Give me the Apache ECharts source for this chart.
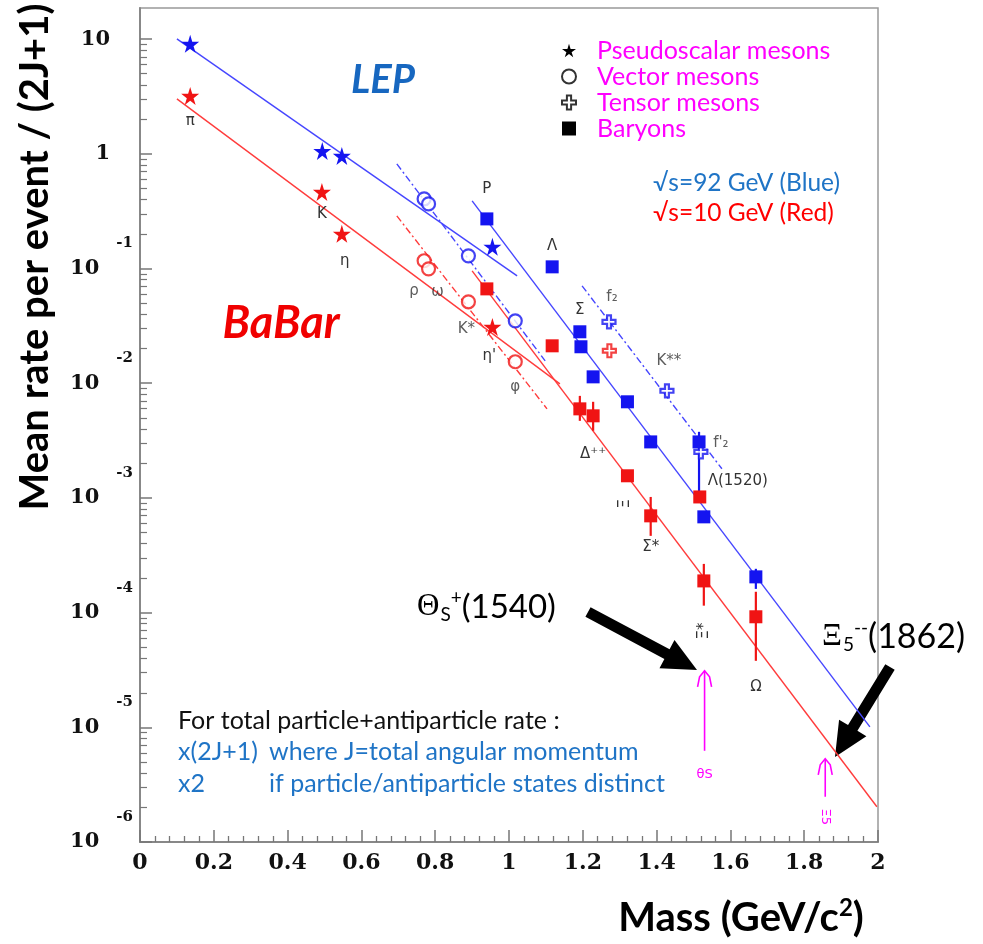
<!DOCTYPE html>
<html><head><meta charset="utf-8">
<script src="https://cdn.jsdelivr.net/npm/echarts@6/dist/echarts.min.js"></script>
<style>html,body{margin:0;padding:0;background:#fff}#c{width:983px;height:944px}</style>
</head><body><div id="c"></div>
<script>
// ---------------- data ----------------
const yTickValues = [1e-6, 1e-5, 1e-4, 1e-3, 1e-2, 1e-1, 1, 10];

const lepPsNames = ['π', 'K', 'η', 'η′'];
const lepPsMass  = [0.136, 0.494, 0.547, 0.955];
const lepPsRate  = [9.1, 1.06, 0.96, 0.155];

const lepVecNames = ['ρ', 'ω', 'K*', 'φ'];
const lepVecMass  = [0.770, 0.782, 0.890, 1.017];
const lepVecRate  = [0.405, 0.366, 0.129, 0.035];

const lepTenNames = ['f2', 'K2*', 'f2′'];
const lepTenMass  = [1.271, 1.428, 1.520];
const lepTenRate  = [0.0343, 0.00859, 0.00252];

const lepBarNames = ['p', 'Λ', 'Σ', 'Σ0', 'Δ++', 'Ξ', 'Σ*', 'Λ(1520)', 'Ξ*', 'Ω'];
const lepBarMass  = [0.940, 1.117, 1.192, 1.195, 1.228, 1.321, 1.384, 1.515, 1.528, 1.669];
const lepBarRate  = [0.271, 0.1035, 0.0281, 0.0208, 0.01137, 0.00689, 0.00308, 0.00308, 0.000684, 0.000205];

const babarPsNames = ['π', 'K', 'η', 'η′'];
const babarPsMass  = [0.136, 0.493, 0.547, 0.955];
const babarPsRate  = [3.2, 0.466, 0.201, 0.031];

const babarVecNames = ['ρ', 'ω', 'K*', 'φ'];
const babarVecMass  = [0.770, 0.782, 0.890, 1.017];
const babarVecRate  = [0.117, 0.0994, 0.0513, 0.0154];

const babarTenNames = ['f2'];
const babarTenMass  = [1.272];
const babarTenRate  = [0.0192];

const babarBarNames = ['p', 'Λ', 'Σ', 'Δ++', 'Ξ', 'Σ*', 'Λ(1520)', 'Ξ*', 'Ω'];
const babarBarMass  = [0.940, 1.117, 1.192, 1.228, 1.321, 1.384, 1.517, 1.528, 1.669];
const babarBarRate  = [0.0665, 0.0212, 0.00598, 0.0052, 0.00156, 0.000698, 0.00102, 0.000189, 0.000092];

const lepErrMass = [1.515, 1.669];
const lepErrLow  = [0.00113, 0.000161];
const lepErrHigh = [0.00377, 0.000241];

const babarErrMass = [1.192, 1.228, 1.384, 1.528, 1.669];
const babarErrLow  = [0.0047, 0.00385, 0.000467, 0.000115, 0.000038];
const babarErrHigh = [0.00776, 0.00689, 0.00102, 0.000266, 0.000152];

// fitted trend lines (end points)
const lepPsLineMass  = [0.10, 1.022];  const lepPsLineRate  = [10.07, 0.0863];
const lepVecLineMass = [0.696, 1.098]; const lepVecLineRate = [0.818, 0.01568];
const lepBarLineMass = [0.90, 1.978];  const lepBarLineRate = [0.389, 1.01e-5];
const lepTenLineMass = [1.198, 1.577]; const lepTenLineRate = [0.0707, 0.001795];
const babarPsLineMass  = [0.10, 1.138]; const babarPsLineRate  = [3.02, 0.00988];
const babarVecLineMass = [0.696, 1.103]; const babarVecLineRate = [0.288, 0.00598];
const babarBarLineMass = [0.90, 1.997]; const babarBarLineRate = [0.0955, 2.03e-6];

// pentaquark expectation arrows
const pentaNames    = ['θS', 'Ξ5'];
const pentaMass     = [1.53, 1.857];
const pentaHeadRate = [3.11e-5, 5.31e-6];
const pentaTailRate = [6.24e-6, 2.48e-6];

// ---------------- styles ----------------
const BLUE = '#1414F0', RED = '#F01414';
const BLUE_L = '#4646FF', RED_L = '#FF3C3C';
const STAR = 'path://M50,0 L61,35 L98,35 L68,57 L79,91 L50,70 L21,91 L32,57 L2,35 L39,35 Z';
const CROSS = 'path://M35,0 H65 V35 H100 V65 H65 V100 H35 V65 H0 V35 H35 Z';

const labelStyle = {
  'BaBar:π': {offset: [0, 25]},
  'BaBar:K': {offset: [0, 22]},
  'BaBar:η': {offset: [3, 27]},
  'BaBar:ρ': {offset: [-10, 30]},
  'BaBar:ω': {offset: [9, 23]},
  'BaBar:K*': {offset: [-2, 27], text: 'K*'},
  'BaBar:η′': {offset: [-3, 29], text: "η'"},
  'BaBar:φ': {offset: [0, 25]},
  'LEP:p': {offset: [0, -30], text: 'P'},
  'LEP:Λ': {offset: [0, -21]},
  'LEP:Σ': {offset: [0, -22]},
  'LEP:f2': {offset: [3, -25], text: 'f₂'},
  'LEP:K2*': {offset: [2, -30], text: 'K**'},
  'LEP:f2′': {offset: [20, -9], text: "f'₂"},
  'BaBar:Δ++': {offset: [0, 38], text: 'Δ⁺⁺'},
  'BaBar:Ξ': {offset: [-28, -2], rotate: 90},
  'BaBar:Σ*': {offset: [0, 31], text: 'Σ*'},
  'BaBar:Λ(1520)': {offset: [38, -16]},
  'BaBar:Ξ*': {offset: [-50, 0], rotate: 90},
  'BaBar:Ω': {offset: [0, 70]}
};

function pts(names, mass, rate, exp) {
  return names.map((n, i) => {
    const item = {name: n, value: [mass[i], rate[i]]};
    const ls = labelStyle[exp + ':' + n];
    if (ls) {
      item.label = {show: true, position: 'inside', formatter: ls.text || n,
        offset: ls.offset, rotate: ls.rotate || 0, color: '#333',
        fontSize: 15, fontFamily: 'DejaVu Sans'};
    }
    return item;
  });
}
function line(mass, rate) { return mass.map((m, i) => [m, rate[i]]); }

function scatter(name, data, symbol, size, color, hollow) {
  return {
    type: 'scatter', name, data, symbol, symbolSize: size, z: 5,
    itemStyle: hollow ? {color: '#fff', borderColor: color, borderWidth: 2.2} : {color: color, opacity: 1},
    label: {show: false}, emphasis: {disabled: true}
  };
}
function fitLine(name, data, color, dashed) {
  return {
    type: 'line', name, data, symbol: 'none', z: 3, silent: true,
    lineStyle: {color: color, width: 1.4, type: dashed ? [7, 3, 2, 3] : 'solid'}
  };
}
function errBars(name, mass, lo, hi, color) {
  return {
    type: 'custom', name, z: 4, silent: true,
    data: mass.map((m, i) => [m, lo[i], hi[i]]),
    encode: {x: 0, y: [1, 2]},
    renderItem(params, api) {
      const a = api.coord([api.value(0), api.value(1)]);
      const b = api.coord([api.value(0), api.value(2)]);
      return {type: 'line', shape: {x1: a[0], y1: a[1], x2: b[0], y2: b[1]},
        style: {stroke: color, lineWidth: 2.2}};
    }
  };
}

const minorValues = [];
for (let k = -6; k <= 0; k++) for (let m = 2; m <= 9; m++) minorValues.push(+(m * Math.pow(10, k)).toPrecision(3));

function arrowPoly(tail, tip, shaftW, headW, headL) {
  const dx = tip[0] - tail[0], dy = tip[1] - tail[1];
  const L = Math.hypot(dx, dy), ux = dx / L, uy = dy / L, nx = -uy, ny = ux;
  const bx = tip[0] - ux * headL, by = tip[1] - uy * headL;
  return [
    [tail[0] + nx * shaftW / 2, tail[1] + ny * shaftW / 2],
    [bx + nx * shaftW / 2, by + ny * shaftW / 2],
    [bx + nx * headW / 2, by + ny * headW / 2],
    tip,
    [bx - nx * headW / 2, by - ny * headW / 2],
    [bx - nx * shaftW / 2, by - ny * shaftW / 2],
    [tail[0] - nx * shaftW / 2, tail[1] - ny * shaftW / 2]
  ];
}

const NOTE_BLUE = '#1F74C6';
const NOTE_FONT = '25px Lato';
const chart = echarts.init(document.getElementById('c'));
chart.setOption({
  animation: false,
  backgroundColor: '#fff',
  grid: {left: 140, right: 105, top: 8, bottom: 102, show: true, borderColor: '#999', borderWidth: 1.5},
  xAxis: {
    type: 'value', min: 0, max: 2, interval: 0.2,
    axisLine: {show: true, lineStyle: {color: '#888', width: 2}},
    axisTick: {show: true, inside: true, length: 12, lineStyle: {color: '#777', width: 1.5}},
    minorTick: {show: true, splitNumber: 5, length: 6, lineStyle: {color: '#777', width: 1.3}},
    axisLabel: {fontFamily: 'DejaVu Serif', fontWeight: 'bold', fontSize: 22, color: '#111', margin: 10},
    splitLine: {show: false}, minorSplitLine: {show: false}
  },
  yAxis: [{
    type: 'log', logBase: 10, min: 1e-6, max: 18.7,
    axisLine: {show: true, lineStyle: {color: '#888', width: 2}},
    axisTick: {show: true, inside: true, length: 12, customValues: yTickValues, lineStyle: {color: '#777', width: 1.5}},
    axisLabel: {
      customValues: yTickValues, margin: 7,
      formatter: function (v) {
        const e = Math.round(Math.log10(v));
        if (e === 0) return '{p|1}';
        if (e === 1) return '{p|10}';
        return '{b|10}{e|' + e + '}';
      },
      rich: {
        b: {fontFamily: 'DejaVu Serif', fontWeight: 'bold', fontSize: 21, color: '#111'},
        p: {fontFamily: 'DejaVu Serif', fontWeight: 'bold', fontSize: 21, color: '#111', padding: [0, 23, 0, 0]},
        e: {fontFamily: 'DejaVu Serif', fontWeight: 'bold', fontSize: 15, color: '#111', padding: [0, 0, 50, 17]}
      }
    },
    splitLine: {show: false}
  }, {
    type: 'log', logBase: 10, min: 1e-6, max: 18.7, position: 'left',
    axisLine: {show: false},
    axisLabel: {show: false},
    axisTick: {show: true, inside: true, length: 7, customValues: minorValues, lineStyle: {color: '#777', width: 1.2}},
    splitLine: {show: false}
  }],
  legend: {
    orient: 'vertical', left: 556, top: 33, itemWidth: 14, itemHeight: 14, itemGap: 1,
    selectedMode: false,
    textStyle: {color: '#FF00FF', fontFamily: 'Lato', fontSize: 25, lineHeight: 22, padding: [0, 0, 0, 16]},
    data: [
      {name: 'Pseudoscalar mesons', icon: STAR, itemStyle: {color: '#000', borderWidth: 0}},
      {name: 'Vector mesons', icon: 'emptyCircle', itemStyle: {color: '#000', borderColor: '#000', borderWidth: 2}},
      {name: 'Tensor mesons', icon: CROSS, itemStyle: {color: '#fff', borderColor: '#000', borderWidth: 2}},
      {name: 'Baryons', icon: 'rect', itemStyle: {color: '#000', borderWidth: 0}}
    ]
  },
  series: [
    fitLine('LEP pseudoscalar fit', line(lepPsLineMass, lepPsLineRate), BLUE_L, false),
    fitLine('LEP vector fit', line(lepVecLineMass, lepVecLineRate), BLUE_L, true),
    fitLine('LEP baryon fit', line(lepBarLineMass, lepBarLineRate), BLUE_L, false),
    fitLine('LEP tensor fit', line(lepTenLineMass, lepTenLineRate), BLUE_L, true),
    fitLine('BaBar pseudoscalar fit', line(babarPsLineMass, babarPsLineRate), RED_L, false),
    fitLine('BaBar vector fit', line(babarVecLineMass, babarVecLineRate), RED_L, true),
    fitLine('BaBar baryon fit', line(babarBarLineMass, babarBarLineRate), RED_L, false),
    errBars('LEP errors', lepErrMass, lepErrLow, lepErrHigh, BLUE),
    errBars('BaBar errors', babarErrMass, babarErrLow, babarErrHigh, RED),
    scatter('Pseudoscalar mesons', pts(lepPsNames, lepPsMass, lepPsRate, 'LEP'), STAR, 18, BLUE, false),
    scatter('Vector mesons', pts(lepVecNames, lepVecMass, lepVecRate, 'LEP'), 'circle', 13, BLUE, true),
    scatter('Tensor mesons', pts(lepTenNames, lepTenMass, lepTenRate, 'LEP'), CROSS, 13, BLUE, true),
    scatter('Baryons', pts(lepBarNames, lepBarMass, lepBarRate, 'LEP'), 'rect', 13, BLUE, false),
    scatter('Pseudoscalar mesons', pts(babarPsNames, babarPsMass, babarPsRate, 'BaBar'), STAR, 18, RED, false),
    scatter('Vector mesons', pts(babarVecNames, babarVecMass, babarVecRate, 'BaBar'), 'circle', 13, RED, true),
    scatter('Tensor mesons', pts(babarTenNames, babarTenMass, babarTenRate, 'BaBar'), CROSS, 13, RED, true),
    scatter('Baryons', pts(babarBarNames, babarBarMass, babarBarRate, 'BaBar'), 'rect', 13, RED, false),
    {
      type: 'custom', name: 'Pentaquark', z: 6, silent: true, clip: false,
      data: pentaNames.map((n, i) => [pentaMass[i], pentaHeadRate[i], pentaTailRate[i], i]),
      encode: {x: 0, y: [1, 2]},
      renderItem(params, api) {
        const h = api.coord([api.value(0), api.value(1)]);
        const t = api.coord([api.value(0), api.value(2)]);
        const i = api.value(3);
        const c = '#FF00FF';
        return {type: 'group', children: [
          {type: 'line', shape: {x1: t[0], y1: t[1], x2: h[0], y2: h[1]}, style: {stroke: c, lineWidth: 1.6}},
          {type: 'polyline', shape: {points: [[h[0] - 7, h[1] + 16], [h[0] - 5, h[1] + 6], [h[0], h[1]], [h[0] + 5, h[1] + 6], [h[0] + 7, h[1] + 16]]}, style: {stroke: c, lineWidth: 1.6, fill: null}},
          {type: 'text', x: t[0], y: t[1] + (i === 0 ? 24 : 20), rotation: i === 0 ? 0 : -Math.PI / 2,
            style: {text: pentaNames[i], fill: c, font: '13px DejaVu Sans', align: 'center', verticalAlign: 'middle'}}
        ]};
      }
    }
  ],
  graphic: [
    {type: 'text', x: 35, y: 257, rotation: Math.PI / 2,
      style: {text: 'Mean rate per event / (2J+1)', font: 'bold 40px Lato', fill: '#000', align: 'center', verticalAlign: 'middle'}},
    {type: 'text', x: 741, y: 918,
      style: {text: '{t|Mass (GeV/c}{s|2}{t|)}', align: 'center', verticalAlign: 'middle',
        rich: {t: {font: 'bold 40px Lato', fill: '#000'}, s: {font: 'bold 24px Lato', fill: '#000', padding: [0, 0, 20, 0]}}}},
    {type: 'text', x: 383, y: 80,
      style: {text: 'LEP', font: 'italic bold 40px Lato', fill: '#1767C0', align: 'center', verticalAlign: 'middle',
        shadowColor: 'rgba(0,0,0,0.45)', shadowBlur: 3, shadowOffsetX: 2, shadowOffsetY: 2}},
    {type: 'text', x: 281, y: 323,
      style: {text: 'BaBar', font: 'italic bold 45px Lato', fill: '#F00000', align: 'center', verticalAlign: 'middle',
        shadowColor: 'rgba(0,0,0,0.45)', shadowBlur: 3, shadowOffsetX: 2, shadowOffsetY: 2}},
    {type: 'text', x: 653, y: 183, style: {text: '√s=92 GeV (Blue)', font: '24.5px Lato', fill: NOTE_BLUE, align: 'left', verticalAlign: 'middle'}},
    {type: 'text', x: 653, y: 213, style: {text: '√s=10 GeV (Red)', font: '24.5px Lato', fill: '#FF0000', align: 'left', verticalAlign: 'middle'}},
    {type: 'text', x: 178, y: 721, style: {text: 'For total particle+antiparticle rate :', font: NOTE_FONT, fill: '#111', align: 'left', verticalAlign: 'middle'}},
    {type: 'text', x: 178, y: 752, style: {text: 'x(2J+1)', font: NOTE_FONT, fill: NOTE_BLUE, align: 'left', verticalAlign: 'middle'}},
    {type: 'text', x: 269, y: 752, style: {text: 'where J=total angular momentum', font: NOTE_FONT, fill: NOTE_BLUE, align: 'left', verticalAlign: 'middle'}},
    {type: 'text', x: 178, y: 784, style: {text: 'x2', font: NOTE_FONT, fill: NOTE_BLUE, align: 'left', verticalAlign: 'middle'}},
    {type: 'text', x: 269, y: 784, style: {text: 'if particle/antiparticle states distinct', font: NOTE_FONT, fill: NOTE_BLUE, align: 'left', verticalAlign: 'middle'}},
    {type: 'text', x: 417, y: 607,
      style: {text: '{g|Θ}{sb|S}{sp|+}{t|(1540)}', align: 'left', verticalAlign: 'middle',
        rich: {g: {font: '31px Liberation Serif', fill: '#000'},
          sb: {font: '19px Lato', fill: '#000', padding: [16, 0, 0, 1]},
          sp: {font: '19px Lato', fill: '#000', padding: [0, 0, 18, 0]},
          t: {font: '33px Lato', fill: '#000'}}}},
    {type: 'text', x: 822, y: 637,
      style: {text: '{g|Ξ}{sb|5}{sp|--}{t|(1862)}', align: 'left', verticalAlign: 'middle',
        rich: {g: {font: '31px Liberation Serif', fill: '#000'},
          sb: {font: '19px Lato', fill: '#000', padding: [16, 0, 0, 1]},
          sp: {font: '19px Lato', fill: '#000', padding: [0, 0, 18, 0]},
          t: {font: '34px Lato', fill: '#000'}}}},
    {type: 'polygon', shape: {points: arrowPoly([588, 612], [697, 670], 11, 32, 34)}, style: {fill: '#000'}},
    {type: 'polygon', shape: {points: arrowPoly([890, 667], [835, 757], 11, 32, 34)}, style: {fill: '#000'}}
  ]
});
</script></body></html>
